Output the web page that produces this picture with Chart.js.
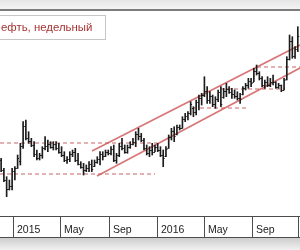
<!DOCTYPE html>
<html><head><meta charset="utf-8">
<script src="https://cdn.jsdelivr.net/npm/chart.js@4"></script>
<style>
html,body{margin:0;padding:0;width:300px;height:250px;overflow:hidden;background:#fff;}
canvas{position:absolute;left:0;top:0;}
#topband{position:absolute;left:0;top:0;width:300px;height:9px;background:linear-gradient(#e6e6e6,#f3f3f3);}
#topline{position:absolute;left:0;top:9px;width:300px;height:2px;background:#7c7c7c;}
#botband{position:absolute;left:0;top:238px;width:300px;height:12px;background:linear-gradient(#cdcdcd,#f1f1f1);}
#title{position:absolute;left:-2px;top:15px;width:108px;height:25px;border:1px solid #c6c6c6;background:#fff;box-sizing:border-box;
 font:11.4px "Liberation Sans",Arial,sans-serif;color:#a83434;line-height:23px;padding-left:2px;white-space:nowrap;overflow:hidden;}
</style></head>
<body>
<canvas id="c" width="300" height="250"></canvas>
<div id="topband"></div><div id="topline"></div><div id="botband"></div>
<div id="title">ефть, недельный</div>
<script>
// weekly bars, x in days from 2015-01-01; first bar = week of 2014-12-01
const firstDay = -31;
const highs = [57.7,47.7,39.3,36,47.7,49.3,61,72.7,94.3,96,
 84.3,77.7,74.3,66,62.7,69.3,79.3,76,74.3,74.3,
 74.3,72.7,69.3,64.3,59.3,64.3,66,67.7,62.7,54.3,
 52.7,51,54.3,56,56,59.3,64.3,64.3,66,66,
 69.3,71,62.7,72.7,77.7,71,71,74.3,77.7,84.3,
 87.7,82.7,77.7,71,69.3,72.7,71,72.7,69.3,66,
 69.3,81,87.7,89.3,91,91,99.3,102.7,104.3,114.3,
 109.3,116,121,122.7,139.3,129.3,124.3,121,119.3,126,
 129.3,127.7,132.7,129.3,127.7,126,124.3,122.7,129.3,132.7,
 137.7,137.7,147.7,151,144.3,139.3,136,139.3,137.7,141,
 134.3,132.7,131,137.7,159.3,181,179.3,169.3,189.3];
const lows = [44.3,34.3,19.3,26,26,36,47.7,51,67.7,76,
 72.7,69.3,59.3,56,56,57.7,66,64.3,67.7,66,
 66,62.7,59.3,54.3,52.7,54.3,59.3,54.3,51,47.7,
 41,44.3,44.3,44.3,49.3,52.7,51,56,59.3,61,
 61,54.3,52.7,59.3,66,62.7,62.7,67.7,71,69.3,
 76,74.3,66,61,59.3,61,64.3,64.3,59.3,49.3,
 59.3,67.7,76,74.3,81,86,87.7,94.3,96,101,
 99.3,101,106,111,119.3,112.7,112.7,109.3,107.7,114.3,
 109.3,117.7,119.3,122.7,117.7,117.7,116,112.7,121,126,
 127.7,129.3,134.3,141,136,129.3,127.7,129.3,129.3,131,
 127.7,127.7,124.3,126,136,156,157.7,157.7,164.3];
const opens = [56,46,36,27,30,45,48,55,70,90,
 78,75,71,62,58,61,68,70,72,69,
 72,68,64,61,56,57,62,64,56,52,
 49,46,48,52,50,54,57,62,60,64,
 63,67,56,61,70,68,64,69,72,74,
 82,80,76,68,63,66,64,69,66,61,
 60,68,79,85,82,89,88,97,100,103,
 108,104,114,118,121,125,116,120,112,117,
 124,119,125,127,124,122,120,118,122,128,
 131,135,134,145,143,138,131,134,131,134,
 134,129,131,126,137,157,175,160,167];
const closes = [46,36,27,30,45,48,58,70,90,78,
 75,71,62,58,61,68,70,72,69,72,
 68,64,61,56,57,62,64,56,52,49,
 46,48,52,47,54,57,62,60,64,63,
 67,56,61,70,68,64,69,72,74,82,
 80,76,68,63,66,64,69,66,61,58,
 67,79,85,80,89,88,97,100,103,112,
 104,114,118,121,125,116,120,112,117,124,
 112,125,127,124,122,120,118,117,128,131,
 135,133,145,143,138,131,134,131,134,134,
 129,131,126,136,157,175,160,167,180];
// axis separators (days from 2015-01-01) and labels
const tickDays = [0,120,243,365,486,609,725.6];
const tickLabels = ['2015','May','Sep','2016','May','Sep',''];
// horizontal dashed levels
const levelY = [73,42,108,127,149];
const levelFrom = [-33.9,-33.9,457.9,526.8,621.1];
const levelTo = [366.2,361.1,598.1,692.4,730.6];
// rising channel lines [x0,y0,x1,y1]
const channelUpper = [200.6,65,730.6,171];
const channelLower = [213.3,40,730.6,148];

const days = highs.map((_, i) => firstDay + 7 * i);
const barData = days.map((d, i) => ({x: d, y: [lows[i], highs[i]]}));

const barColor = '#1c1c1c';
const levelColor = '#c86464';
const chanColor = 'rgba(206,84,84,0.8)';

const datasets = [{
  type: 'bar', data: barData, backgroundColor: barColor, borderWidth: 0,
  barThickness: 1, order: 0
}];
levelY.forEach((y, i) => datasets.push({
  type: 'line', data: [{x: levelFrom[i], y}, {x: levelTo[i], y}],
  borderColor: levelColor, borderWidth: 1, borderDash: [4, 3], pointRadius: 0, order: 2
}));
[channelUpper, channelLower].forEach(c => datasets.push({
  type: 'line', data: [{x: c[0], y: c[1]}, {x: c[2], y: c[3]}],
  borderColor: chanColor, borderWidth: 1.6, pointRadius: 0, order: 1
}));

const ohlcTicks = {
  id: 'ohlcTicks',
  afterDatasetsDraw(chart) {
    const {ctx, scales: {x, y}} = chart;
    ctx.save();
    ctx.strokeStyle = barColor; ctx.lineWidth = 1;
    ctx.beginPath();
    days.forEach((d, i) => {
      const px = x.getPixelForValue(d);
      const po = Math.round(y.getPixelForValue(opens[i])) + 0.5;
      const pc = Math.round(y.getPixelForValue(closes[i])) + 0.5;
      ctx.moveTo(px - 1.4, po); ctx.lineTo(px, po);
      ctx.moveTo(px, pc); ctx.lineTo(px + 1.4, pc);
    });
    ctx.stroke();
    ctx.restore();
  }
};

const axisStrip = {
  id: 'axisStrip',
  afterDraw(chart) {
    const {ctx, scales: {x}, chartArea} = chart;
    const top = chartArea.bottom, bot = top + 21;
    ctx.save();
    ctx.strokeStyle = '#4d4d4d'; ctx.lineWidth = 1;
    ctx.beginPath();
    ctx.moveTo(0, top + 0.5); ctx.lineTo(300, top + 0.5);
    ctx.moveTo(0, bot + 0.5); ctx.lineTo(300, bot + 0.5);
    tickDays.forEach(d => {
      const px = Math.round(x.getPixelForValue(d)) + 0.5;
      ctx.moveTo(px, top); ctx.lineTo(px, bot);
    });
    ctx.stroke();
    ctx.fillStyle = '#222';
    ctx.font = '10.5px "Liberation Sans", Arial, sans-serif';
    ctx.textBaseline = 'alphabetic'; ctx.textAlign = 'left';
    tickDays.forEach((d, i) => {
      if (tickLabels[i]) ctx.fillText(tickLabels[i], Math.round(x.getPixelForValue(d)) + 4, top + 17);
    });
    ctx.restore();
  }
};

new Chart(document.getElementById('c'), {
  type: 'bar',
  data: {datasets},
  options: {
    responsive: false, animation: false, devicePixelRatio: 1,
    layout: {padding: {left: 0, right: 0, top: 11, bottom: 34}},
    plugins: {legend: {display: false}, tooltip: {enabled: false}},
    scales: {
      x: {type: 'linear', display: false, min: -33.9, max: 730.6, offset: false},
      y: {type: 'linear', display: false, min: 0, max: 205}
    }
  },
  plugins: [ohlcTicks, axisStrip]
});
</script>
</body></html>
